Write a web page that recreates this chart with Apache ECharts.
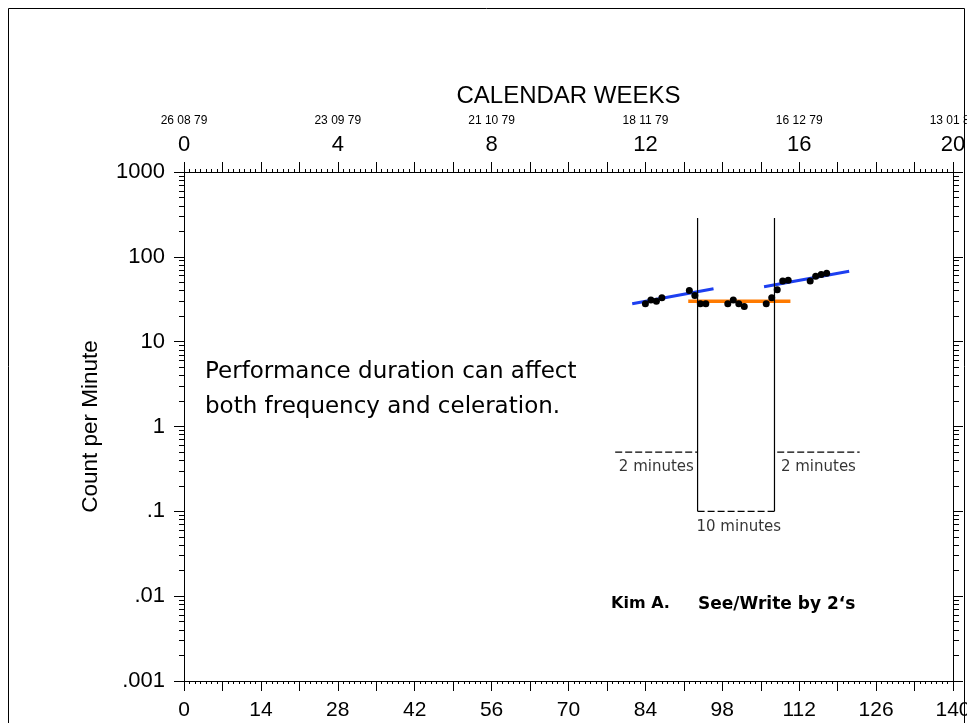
<!DOCTYPE html>
<html>
<head>
<meta charset="utf-8">
<script src="https://cdn.jsdelivr.net/npm/echarts@6/dist/echarts.min.js"></script>
<style>
  html, body { margin: 0; padding: 0; background: #fff; }
  #chart { width: 967px; height: 723px; }
</style>
</head>
<body>
<div id="chart"></div>
<script>
// axis ticks
const dayTicks = [0, 14, 28, 42, 56, 70, 84, 98, 112, 126, 140]
const weekTicks = [0, 4, 8, 12, 16, 20]
const weekDates = ["26 08 79", "23 09 79", "21 10 79", "18 11 79", "16 12 79", "13 01 80"]
const countTicks = [0.001, 0.01, 0.1, 1, 10, 100, 1000]
const countTickLabels = [".001", ".01", ".1", "1", "10", "100", "1000"]

// daily counts per phase
const phase1Days = [84, 85, 86, 87, 92, 93]
const phase1Counts = [28, 31, 30, 33, 40, 35]
const phase2Days = [94, 95, 99, 100, 101, 102, 106, 107]
const phase2Counts = [28, 28, 28, 31, 28, 26, 28, 33]
const phase3Days = [108, 109, 110, 114, 115, 116, 117]
const phase3Counts = [41, 52, 53, 52, 59, 62, 64]

// celeration lines (start / end)
const cel1Days = [81.6, 96.4]
const cel1Counts = [28, 42]
const cel2Days = [91.8, 110.4]
const cel2Counts = [30, 30]
const cel3Days = [105.6, 121.1]
const cel3Counts = [44.5, 67.5]

// phase change lines and counting-time floors
const phaseChangeDays = [93.5, 107.5]
const phaseLineCounts = [0.1, 287]
const floorStartDays = [78.5, 93.5, 108]
const floorEndDays = [93.5, 107.5, 123]
const floorCounts = [0.5, 0.1, 0.5]
const floorLabelDays = [86, 101, 115.5]
const floorLabels = ["2 minutes", "10 minutes", "2 minutes"]

const minorCountTicks = countTicks.slice(0, -1).flatMap(c =>
  [2, 3, 4, 5, 6, 7, 8, 9].map(k => +(k * c).toPrecision(3)))

const FONT = "Liberation Sans"
const black = "#000"

function countLabel(v) {
  const i = countTicks.findIndex(c => Math.abs(Math.log10(c) - Math.log10(v)) < 1e-6)
  return i >= 0 ? countTickLabels[i] : ""
}

function zip(xs, ys) {
  return xs.map((x, i) => [x, ys[i]])
}

const chart = echarts.init(document.getElementById("chart"), null, { renderer: "canvas" })

const logAxisBase = {
  type: "log",
  logBase: 10,
  min: 0.001,
  max: 1000,
  splitLine: { show: false },
  axisLine: { show: true, lineStyle: { color: black, width: 1 } }
}

function dotSeries(days, counts) {
  return {
    type: "scatter",
    data: zip(days, counts),
    symbol: "circle",
    symbolSize: 7,
    itemStyle: { color: black, opacity: 1 },
    z: 5
  }
}

function lineSeries(days, counts, color, width, dash) {
  return {
    type: "line",
    data: zip(days, counts),
    showSymbol: false,
    symbol: "none",
    lineStyle: { color, width, type: dash || "solid", opacity: 1 },
    silent: true,
    z: 4
  }
}

const series = [
  dotSeries(phase1Days, phase1Counts),
  dotSeries(phase2Days, phase2Counts),
  dotSeries(phase3Days, phase3Counts),
  lineSeries(cel1Days, cel1Counts, "#1d3ff0", 3),
  lineSeries(cel2Days, cel2Counts, "#ff7a00", 3.5),
  lineSeries(cel3Days, cel3Counts, "#1d3ff0", 3),
  ...phaseChangeDays.map(d => lineSeries([d, d], phaseLineCounts, black, 1.2)),
  ...floorCounts.map((c, i) => lineSeries([floorStartDays[i], floorEndDays[i]], [c, c], black, 1.2, [7, 3])),
  {
    type: "scatter",
    symbolSize: 0,
    data: floorLabels.map((t, i) => ({ value: [floorLabelDays[i], floorCounts[i]], name: t })),
    label: {
      show: true,
      position: "bottom",
      distance: 8,
      formatter: p => p.name,
      fontFamily: "DejaVu Sans",
      fontSize: 15,
      color: black
    },
    silent: true
  }
]

chart.setOption({
  animation: false,
  backgroundColor: "#fff",
  grid: { left: 184, right: 14, top: 172, bottom: 42, outerBoundsMode: "none", containLabel: false },
  xAxis: [
    {
      type: "value",
      position: "bottom",
      min: 0,
      max: 140,
      interval: 7,
      splitLine: { show: false },
      axisLine: { lineStyle: { color: black, width: 1 } },
      axisTick: { length: 10, lineStyle: { color: black } },
      minorTick: { show: true, splitNumber: 7, length: 3, lineStyle: { color: black } },
      axisLabel: {
        customValues: dayTicks,
        margin: 19,
        fontFamily: FONT,
        fontSize: 21,
        color: black,
        hideOverlap: false
      }
    },
    {
      type: "value",
      position: "top",
      min: 0,
      max: 20,
      interval: 1,
      splitLine: { show: false },
      axisLine: { lineStyle: { color: black, width: 1 } },
      axisTick: { length: 10, lineStyle: { color: black } },
      minorTick: { show: true, splitNumber: 7, length: 3, lineStyle: { color: black } },
      axisLabel: {
        customValues: weekTicks,
        margin: 16,
        color: black,
        formatter: v => "{d|" + weekDates[weekTicks.indexOf(v)] + "}\n{w|" + v + "}",
        rich: {
          d: { fontFamily: FONT, fontSize: 12, lineHeight: 26, color: black },
          w: { fontFamily: FONT, fontSize: 22, lineHeight: 22, color: black }
        }
      },
      name: "CALENDAR WEEKS",
      nameLocation: "middle",
      nameGap: 64,
      nameTextStyle: { fontFamily: FONT, fontSize: 24, color: black }
    }
  ],
  yAxis: [
    {
      ...logAxisBase,
      position: "left",
      axisTick: { customValues: countTicks, length: 10, lineStyle: { color: black } },
      axisLabel: {
        customValues: countTicks,
        formatter: countLabel,
        margin: 19,
        fontFamily: FONT,
        fontSize: 22,
        color: black
      },
      name: "Count per Minute",
      nameLocation: "middle",
      nameGap: 82,
      nameTextStyle: { fontFamily: FONT, fontSize: 22.5, color: black }
    },
    {
      ...logAxisBase,
      position: "left",
      axisLine: { show: false },
      axisLabel: { show: false },
      axisTick: { customValues: minorCountTicks, length: 5, lineStyle: { color: black } }
    },
    {
      ...logAxisBase,
      position: "right",
      axisLabel: { show: false },
      axisTick: { customValues: countTicks, length: 10, lineStyle: { color: black } }
    },
    {
      ...logAxisBase,
      position: "right",
      axisLine: { show: false },
      axisLabel: { show: false },
      axisTick: { customValues: minorCountTicks, length: 6, lineStyle: { color: black } }
    }
  ],
  graphic: [
    {
      type: "rect",
      shape: { x: 8.5, y: 8.5, width: 956, height: 740 },
      style: { fill: null, stroke: black, lineWidth: 1 },
      silent: true
    },
    {
      type: "text",
      left: 205,
      top: 355,
      style: {
        text: "Performance duration can affect\nboth frequency and celeration.",
        fontFamily: "DejaVu Sans",
        fontSize: 23,
        lineHeight: 35,
        fill: black
      }
    },
    {
      type: "text",
      left: 611,
      top: 596,
      style: { text: "Kim A.", fontFamily: "DejaVu Sans", fontSize: 16, fontWeight: "bold", fill: black }
    },
    {
      type: "text",
      left: 698,
      top: 596,
      style: { text: "See/Write by 2\u2018s", fontFamily: "DejaVu Sans", fontSize: 17, fontWeight: "bold", fill: black }
    }
  ],
  series
})
</script>
</body>
</html>
